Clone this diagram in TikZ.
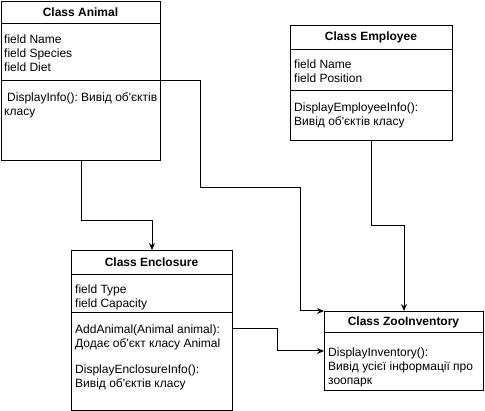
\documentclass[tikz,border=0pt]{standalone}
\usepackage{fontspec}
\setmainfont{Liberation Sans}
\usetikzlibrary{positioning,arrows.meta}

\newcommand{\ap}{\textquotesingle}
\frenchspacing

\tikzset{
  classbox/.style={draw,line width=1pt,anchor=north west,inner sep=0pt},
  classname/.style={font=\bfseries\fontsize{12}{14}\selectfont,inner sep=0pt},
  members/.style={anchor=north west,align=left,inner sep=0pt,font=\fontsize{12}{14}\selectfont},
  sepline/.style={line width=1pt},
  link/.style={line width=1pt,-{Stealth[length=7pt,width=6pt]}}
}

\begin{document}
\begin{tikzpicture}[x=1pt,y=-1pt]
	\useasboundingbox (0,0) rectangle (485,411);
	% class boxes
	\node[classbox,minimum width=159pt,minimum height=159pt] (animal) at (1,1) {};
	\node[classbox,minimum width=162pt,minimum height=115pt] (employee) at (290,25) {};
	\node[classbox,minimum width=161pt,minimum height=160pt] (enclosure) at (71,250) {};
	\node[classbox,minimum width=159pt,minimum height=79pt] (zoo) at (324,311) {};
	% compartments
	\draw[sepline] (animal.west |- 0,24) -- (animal.east |- 0,24);
	\draw[sepline] (animal.west |- 0,81) -- (animal.east |- 0,81);
	\draw[sepline] (employee.west |- 0,50) -- (employee.east |- 0,50);
	\draw[sepline] (employee.west |- 0,91) -- (employee.east |- 0,91);
	\draw[sepline] (enclosure.west |- 0,275) -- (enclosure.east |- 0,275);
	\draw[sepline] (enclosure.west |- 0,313) -- (enclosure.east |- 0,313);
	\draw[sepline] (zoo.west |- 0,333) -- (zoo.east |- 0,333);
	% titles
	\node[classname] (animaltitle) at (80.5,12.5) {Class Animal};
	\node[classname] (employeetitle) at (371,37.5) {Class Employee};
	\node[classname] (enclosuretitle) at (151.5,262.5) {Class Enclosure};
	\node[classname] (zootitle) at (403.5,322) {Class ZooInventory};
	% members
	\node[members] (animalfields) at (4,35) {field Name\\field Species\\field Diet};
	\node[members] (animalmethods) at (4,92.5) {\hspace{3pt}DisplayInfo(): Вивід об\ap єктів\\класу};
	\node[members] (employeefields) at (294,59.5) {field Name\\field Position};
	\node[members] (employeemethods) at (294,102.5) {DisplayEmployeeInfo():\\Вивід об\ap єктів класу};
	\node[members] (enclosurefields) at (75,284.5) {field Type\\field Capacity};
	\node[members] (enclosuremethods) at (75,324.5) {AddAnimal(Animal animal):\\Додає об\ap єкт класу Animal\\[12pt]DisplayEnclosureInfo():\\Вивід об\ap єктів класу};
	\node[members] (zoomethods) at (328,347.5) {DisplayInventory():\\Вивід усієї інформації про\\зоопарк};
	% connectors
	\coordinate (animalout) at (animal.east |- 0,81);
	\coordinate (enclosureout) at (enclosure.east |- 0,329);
	\coordinate (zooin) at (zoo.west |- 0,351);
	\draw[link] (animal.south) -- ++(0,60) -| (enclosure.north);
	\draw[link] (animalout) -| (200,188) -| (300,311) -- (zoo.north west);
	\draw[link] (employee.south) -- ++(0,85) -| (zoo.north);
	\draw[link] (enclosureout) -| (277,351) -- (zooin);
\end{tikzpicture}
\end{document}
